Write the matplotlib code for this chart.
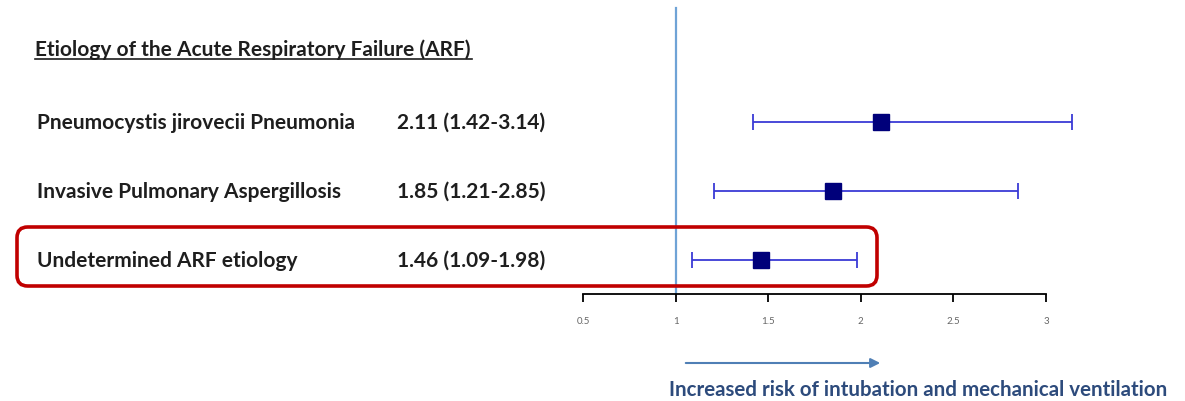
import matplotlib
matplotlib.use("Agg")
import matplotlib.pyplot as plt
from matplotlib.patches import FancyBboxPatch
import matplotlib.transforms as mtransforms

# data
labels = ["Pneumocystis jirovecii Pneumonia", "Invasive Pulmonary Aspergillosis", "Undetermined ARF etiology"]
hr = [2.11, 1.85, 1.46]
ci_low = [1.42, 1.21, 1.09]
ci_high = [3.14, 2.85, 1.98]
ticks = [0.5, 1, 1.5, 2, 2.5, 3]
tick_labels = ["0.5", "1", "1.5", "2", "2.5", "3"]

plt.rcParams["font.family"] = ["Lato", "DejaVu Sans"]

W, H = 1185, 402
fig = plt.figure(figsize=(W / 100, H / 100), dpi=100)
ax = fig.add_axes([0, 0, 1, 1])

# pixel mapping: x=0.5 -> 583px, x=3 -> 1046px ; row 0 -> 123px, step 69px
px_per_unit = (1046 - 583) / 2.5
ax.set_xlim(0.5 - 583 / px_per_unit, 0.5 + (W - 583) / px_per_unit)
row_step = 69.0
ax.set_ylim((H - 123) / row_step, -123 / row_step)

rows = list(range(len(labels)))
axis_row = (295 - 123) / row_step

# reference line at 1
ax.plot([1, 1], [(9 - 123) / row_step, axis_row], color="#6fa3d6", lw=1.6, zorder=1)

# confidence intervals and estimates
xerr = [[h - l for h, l in zip(hr, ci_low)], [u - h for h, u in zip(hr, ci_high)]]
ax.errorbar(hr, rows, xerr=xerr, fmt="none", ecolor="#3a3ad6", elinewidth=1.3,
            capsize=6, capthick=1.3, zorder=2)
ax.plot(hr, rows, "s", color="#00007a", markersize=11, zorder=3)

# x axis
for s in ["top", "right", "left"]:
    ax.spines[s].set_visible(False)
ax.spines["bottom"].set_position(("data", axis_row))
ax.spines["bottom"].set_bounds(0.5, 3)
ax.spines["bottom"].set_linewidth(1.3)
ax.set_xticks(ticks)
ax.set_xticklabels(tick_labels)
ax.tick_params(axis="x", direction="out", length=6, width=1.3, pad=10,
               labelsize=7, labelcolor="#666666")
ax.set_yticks([])

# left-hand text
txt = "#1e1e1e"
trans = mtransforms.blended_transform_factory(fig.transFigure, ax.transData)
ax.text(35 / W, (50 - 123) / row_step, "Etiology of the Acute Respiratory Failure (ARF)",
        transform=trans, fontsize=15, fontweight="bold", color=txt,
        va="center", ha="left")
ax.plot([35 / W, 472 / W], [(60 - 123) / row_step] * 2, transform=trans,
        color=txt, lw=1.2, clip_on=False)
for r, lab, h, l, u in zip(rows, labels, hr, ci_low, ci_high):
    ax.text(37 / W, r, lab, transform=trans, fontsize=15, fontweight="bold",
            color=txt, va="center", ha="left")
    ax.text(397 / W, r, f"{h:.2f} ({l:.2f}-{u:.2f})", transform=trans, fontsize=15,
            fontweight="bold", color=txt, va="center", ha="left")

# highlight box around last row
box = FancyBboxPatch((17 / W, 1 - 287 / H), (877 - 17) / W, (287 - 228) / H,
                     boxstyle="round,pad=0.0,rounding_size=0.009",
                     transform=fig.transFigure, fill=False, edgecolor="#c00000", lw=2.6,
                     mutation_aspect=W / H)
fig.patches.append(box)

# arrow and caption
ax.annotate("", xy=(883 / W, 1 - 364 / H), xytext=(683 / W, 1 - 364 / H),
            xycoords="figure fraction", textcoords="figure fraction",
            arrowprops=dict(arrowstyle="-|>", color="#4f7fb5", lw=1.5, mutation_scale=14))
fig.text(669 / W, 1 - 390 / H, "Increased risk of intubation and mechanical ventilation",
         fontsize=14.8, fontweight="bold", color="#2d4b7c", va="center", ha="left")

fig.savefig("out.png", dpi=100, facecolor="white")
